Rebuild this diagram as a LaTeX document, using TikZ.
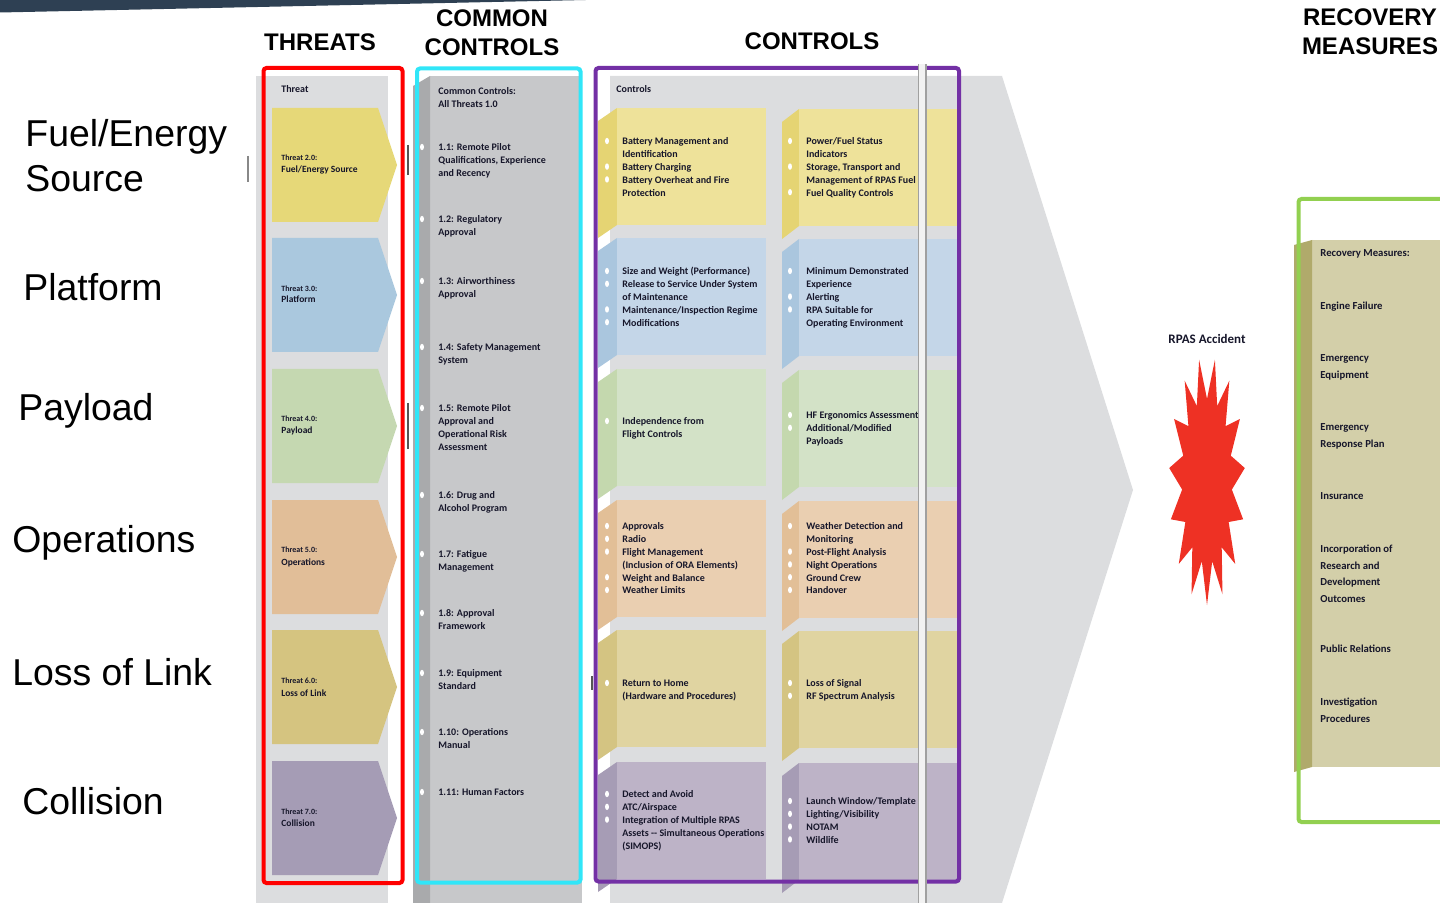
\documentclass[tikz,border=0pt]{standalone}
\usepackage{fontspec}
\setmainfont{Liberation Sans}
\newfontfamily\cf{Carlito}
\definecolor{bar}{HTML}{2E4053}
\definecolor{gbg}{HTML}{DCDDDF}
\definecolor{ccmain}{HTML}{C7C8CA}
\definecolor{ccstrip}{HTML}{A9AAAC}
\definecolor{redb}{HTML}{FF0000}
\definecolor{cyanb}{HTML}{30E6F8}
\definecolor{purb}{HTML}{7330A5}
\definecolor{greenb}{HTML}{92D050}
\definecolor{txt}{HTML}{16162A}
\definecolor{thyel}{HTML}{E6D878}
\definecolor{thblu}{HTML}{AAC8DE}
\definecolor{thgrn}{HTML}{C5D8B1}
\definecolor{thorg}{HTML}{E1BE98}
\definecolor{thkha}{HTML}{D5C480}
\definecolor{thpur}{HTML}{A59CB5}
\definecolor{cyel}{HTML}{EEE29A}
\definecolor{cblu}{HTML}{C4D6E8}
\definecolor{cgrn}{HTML}{D3E2C7}
\definecolor{corg}{HTML}{EACFB1}
\definecolor{ckha}{HTML}{E0D4A1}
\definecolor{cpur}{HTML}{BDB3C7}
\definecolor{syel}{HTML}{E5D473}
\definecolor{sblu}{HTML}{AAC6DE}
\definecolor{sgrn}{HTML}{C4D8AE}
\definecolor{sorg}{HTML}{E2BF97}
\definecolor{skha}{HTML}{D4C482}
\definecolor{spur}{HTML}{A69CB5}
\definecolor{recmain}{HTML}{D3CFA9}
\definecolor{recstrip}{HTML}{B0AA6B}
\definecolor{starc}{HTML}{EE3124}
\definecolor{dbl}{HTML}{A0A0A0}
\definecolor{dblfill}{HTML}{F2F2F2}
\definecolor{cursor}{HTML}{555555}
\begin{document}
\begin{tikzpicture}[x=0.5pt,y=-0.5pt,
  blk/.style={anchor=north west,inner sep=0pt,align=left,text=txt,font=\cf\bfseries\fontsize{5}{6.4}\selectfont},
  rblk/.style={anchor=north west,inner sep=0pt,align=left,text=txt,font=\cf\bfseries\fontsize{5.35}{8.2}\selectfont},
  one/.style={anchor=base west,inner sep=0pt,text=txt,font=\cf\bfseries\fontsize{5}{6.4}\selectfont},
  rone/.style={anchor=base west,inner sep=0pt,text=txt,font=\cf\bfseries\fontsize{5.35}{8.2}\selectfont},
  thsm/.style={anchor=base west,inner sep=0pt,text=txt,font=\cf\bfseries\fontsize{4}{5}\selectfont},
  thnm/.style={anchor=base west,inner sep=0pt,text=txt,font=\cf\bfseries\fontsize{4.75}{6}\selectfont},
  hdr/.style={inner sep=0pt,align=center,text=black,font=\bfseries\fontsize{12}{14.5}\selectfont},
  big/.style={anchor=base west,inner sep=0pt,text=black,font=\fontsize{18.7}{22.5}\selectfont},
  bline/.style={line width=2pt,rounded corners=1.5pt}
]
\useasboundingbox (0,0) rectangle (1440,903);
\clip (0,0) rectangle (1440,903);

% top bar
\fill[bar] (0,0) -- (586,0) -- (0,12.5) -- cycle;

% headers
\node[hdr] (hthreats) at (320,42) {THREATS};
\node[hdr] (hcommon) at (492,32.5) {COMMON\\CONTROLS};
\node[hdr] (hcontrols) at (812,41) {CONTROLS};
\node[hdr] (hrecovery) at (1370,31.5) {RECOVERY\\MEASURES};

% left labels
\node[big] (lfa) at (25,146.5) {Fuel/Energy};
\node[big] (lfb) at (25,191.5) {Source};
\node[big] (lpl) at (23,301) {Platform};
\node[big] (lpa) at (18,420.5) {Payload};
\node[big] (lop) at (12,552.5) {Operations};
\node[big] (llo) at (12,685.5) {Loss of Link};
\node[big] (lco) at (22,814.5) {Collision};

% threat column
\fill[gbg] (256,76) rectangle (388,903);
\foreach \T/\c in {108/thyel,238/thblu,369/thgrn,500/thorg,630/thkha,761/thpur}{
  \fill[\c] (272,\T) -- (378,\T) -- (397,\T+57) -- (378,\T+114) -- (272,\T+114) -- cycle;
}
\node[one] (thr) at (281,92.5) {Threat};
\node[thsm] (t2a) at (281,160.5) {Threat 2.0:};
\node[thnm] (t2b) at (281,173) {Fuel/Energy Source};
\node[thsm] (t3a) at (281,291.5) {Threat 3.0:};
\node[thnm] (t3b) at (281,303) {Platform};
\node[thsm] (t4a) at (281,421.5) {Threat 4.0:};
\node[thnm] (t4b) at (281,434) {Payload};
\node[thsm] (t5a) at (281,552.5) {Threat 5.0:};
\node[thnm] (t5b) at (281,565) {Operations};
\node[thsm] (t6a) at (281,683.5) {Threat 6.0:};
\node[thnm] (t6b) at (281,696) {Loss of Link};
\node[thsm] (t7a) at (281,814.5) {Threat 7.0:};
\node[thnm] (t7b) at (281,826) {Collision};
\draw[redb,bline] (263.5,68) rectangle (402.5,883);

% common controls column
\fill[ccmain] (430,76) rectangle (582,903);
\fill[ccstrip] (413,86) -- (430,76) -- (430,903) -- (413,903) -- cycle;
\node[blk] (cch) at (438,85.5) {\strut Common Controls:\\All Threats 1.0};
\node[blk] (c11) at (438,141.5) {\strut 1.1: Remote Pilot\\Qualifications, Experience\\and Recency};
\node[blk] (c12) at (438,213.5) {\strut 1.2: Regulatory\\Approval};
\node[blk] (c13) at (438,275.5) {\strut 1.3: Airworthiness\\Approval};
\node[blk] (c14) at (438,341.5) {\strut 1.4: Safety Management\\System};
\node[blk] (c15) at (438,402.5) {\strut 1.5: Remote Pilot\\Approval and\\Operational Risk\\Assessment};
\node[blk] (c16) at (438,489.5) {\strut 1.6: Drug and\\Alcohol Program};
\node[blk] (c17) at (438,548.5) {\strut 1.7: Fatigue\\Management};
\node[blk] (c18) at (438,607.5) {\strut 1.8: Approval\\Framework};
\node[blk] (c19) at (438,667.5) {\strut 1.9: Equipment\\Standard};
\node[blk] (c110) at (438,726.5) {\strut 1.10: Operations\\Manual};
\node[blk] (c111) at (438,786.5) {\strut 1.11: Human Factors};
\foreach \y in {147,219,281,347,408,495,554,613,673,732,792}{
  \fill[white] (422,\y) ellipse [x radius=2, y radius=3.2];
}
\draw[cyanb,bline] (417,68.5) rectangle (580.5,882.5);

% controls area with big arrow
\fill[gbg] (610,76) -- (1002,76) -- (1133,490) -- (1002,903) -- (610,903) -- cycle;
\foreach \T/\m/\s in {108/cyel/syel,238/cblu/sblu,369/cgrn/sgrn,500/corg/sorg,630/ckha/skha,762/cpur/spur}{
  \fill[\s] (598,\T+13) -- (617,\T) -- (617,\T+117) -- (598,\T+130) -- cycle;
  \fill[\m] (617,\T) rectangle (766,\T+117);
  \fill[\s] (782,\T+14) -- (799,\T+1) -- (799,\T+118) -- (782,\T+131) -- cycle;
  \fill[\m] (799,\T+1) rectangle (958,\T+118);
}
\node[one] (ctl) at (616,92.5) {Controls};
\node[blk] (r1l) at (622,135.5) {\strut Battery Management and\\Identification\\Battery Charging\\Battery Overheat and Fire\\Protection};
\node[blk] (r1r) at (806,135.5) {\strut Power/Fuel Status\\Indicators\\Storage, Transport and\\Management of RPAS Fuel\\Fuel Quality Controls};
\node[blk] (r2l) at (622,265.5) {\strut Size and Weight (Performance)\\Release to Service Under System\\of Maintenance\\Maintenance/Inspection Regime\\Modifications};
\node[blk] (r2r) at (806,265.5) {\strut Minimum Demonstrated\\Experience\\Alerting\\RPA Suitable for\\Operating Environment};
\node[blk] (r3l) at (622,415.5) {\strut Independence from\\Flight Controls};
\node[blk] (r3r) at (806,409.5) {\strut HF Ergonomics Assessment\\Additional/Modified\\Payloads};
\node[blk] (r4l) at (622,520.5) {\strut Approvals\\Radio\\Flight Management\\(Inclusion of ORA Elements)\\Weight and Balance\\Weather Limits};
\node[blk] (r4r) at (806,520.5) {\strut Weather Detection and\\Monitoring\\Post-Flight Analysis\\Night Operations\\Ground Crew\\Handover};
\node[blk] (r5l) at (622,677.5) {\strut Return to Home\\(Hardware and Procedures)};
\node[blk] (r5r) at (806,677.5) {\strut Loss of Signal\\RF Spectrum Analysis};
\node[blk] (r6l) at (622,788.5) {\strut Detect and Avoid\\ATC/Airspace\\Integration of Multiple RPAS\\Assets -- Simultaneous Operations\\(SIMOPS)};
\node[blk] (r6r) at (806,795.5) {\strut Launch Window/Template\\Lighting/Visibility\\NOTAM\\Wildlife};
\foreach \x/\y in {607/141,607/166.6,607/179.4,790/141,790/166.6,790/192.2,
  607/271,607/283.8,607/309.4,607/322.2,790/271,790/296.6,790/309.4,
  607/421,790/415,790/427.8,
  607/526,607/538.8,607/551.6,607/577.2,607/590,790/526,790/551.6,790/564.4,790/577.2,790/590,
  607/683,790/683,790/695.8,
  607/794,607/806.8,607/819.6,790/801,790/813.8,790/826.6,790/839.4}{
  \fill[white] (\x,\y) ellipse [x radius=2, y radius=3.2];
}
\draw[purb,bline] (595.5,68) rectangle (959,881.5);
\fill[dblfill] (918.5,64) rectangle (926,903);
\draw[dbl,line width=0.7pt] (918.5,64) -- (918.5,903);
\draw[dbl,line width=0.7pt] (926,64) -- (926,903);

% cursor marks
\draw[cursor,line width=0.7pt] (408,145) -- (408,175);
\draw[cursor,line width=0.7pt] (408,403) -- (408,449);
\draw[cursor,line width=0.7pt] (592,676) -- (592,690);
\draw[cursor!70,line width=0.7pt] (248,156) -- (248,182);

% accident star
\node[inner sep=0pt,text=txt,font=\cf\bfseries\fontsize{6.5}{7.5}\selectfont] (acc) at (1207,338.5) {RPAS Accident};
\fill[starc] (1207,605) \foreach \k in {0,...,14}{
  -- ({1207+38*cos(270+24*\k)},{481-124*sin(270+24*\k)})
  -- ({1207+25*cos(282+24*\k)},{481-82*sin(282+24*\k)}) } -- cycle;

% recovery measures
\fill[recmain] (1311,240) rectangle (1440,767);
\fill[recstrip] (1294,245) -- (1312,240) -- (1312,767) -- (1294,772) -- cycle;
\draw[greenb,bline] (1298.5,199) rectangle (1450,822);
\node[rone] (rm0) at (1320,256.5) {Recovery Measures:};
\node[rone] (rm1) at (1320,309.5) {Engine Failure};
\node[rblk] (rm2) at (1320,350) {\strut Emergency\\Equipment};
\node[rblk] (rm3) at (1320,419) {\strut Emergency\\Response Plan};
\node[rone] (rm4) at (1320,499.5) {Insurance};
\node[rblk] (rm5) at (1320,541) {\strut Incorporation of\\Research and\\Development\\Outcomes};
\node[rone] (rm6) at (1320,652.5) {Public Relations};
\node[rblk] (rm7) at (1320,694) {\strut Investigation\\Procedures};
\end{tikzpicture}
\end{document}
